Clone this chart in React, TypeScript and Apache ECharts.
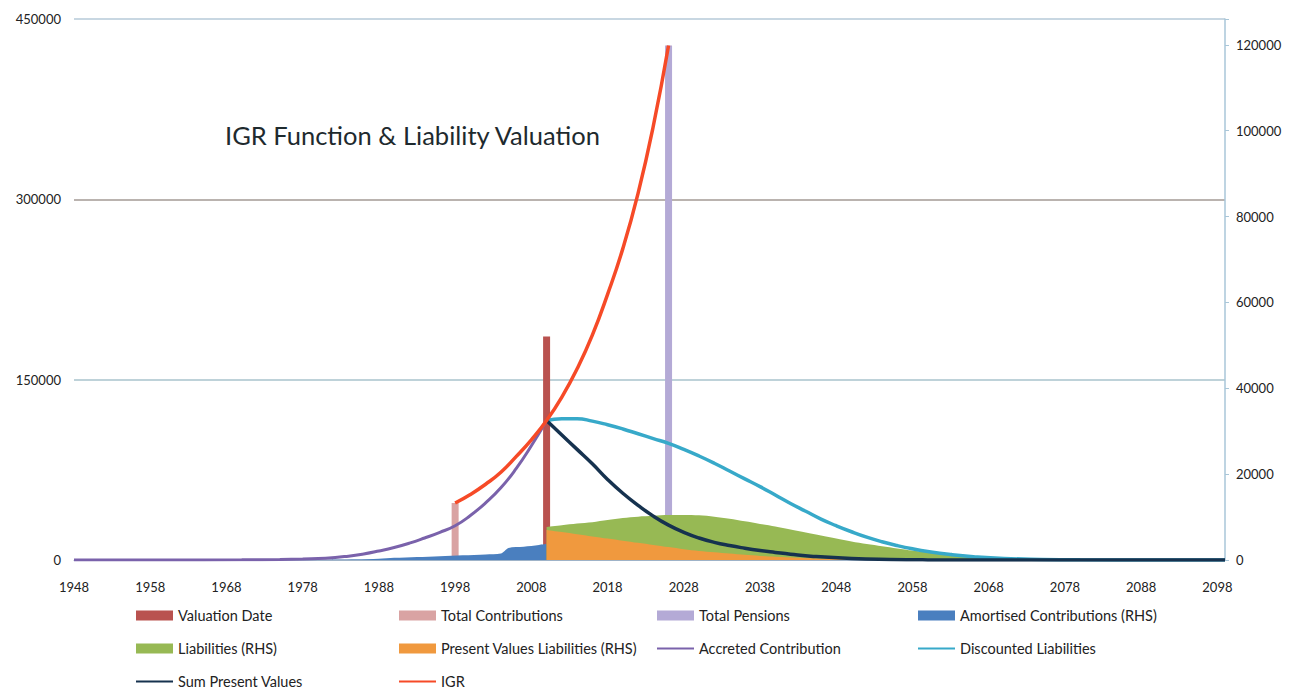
import React, { useEffect, useRef } from "react";
import * as echarts from "echarts";

const BASE_YEAR = 1948;
const yearTicks = [1948, 1958, 1968, 1978, 1988, 1998, 2008, 2018, 2028, 2038, 2048, 2058, 2068, 2078, 2088, 2098];
const leftTicks = [0, 150000, 300000, 450000];
const rightTicks = [0, 20000, 40000, 60000, 80000, 100000, 120000];

// Bars (LHS)
const valuationDate: [number, number][] = [[2010, 186000]];
const totalContributions: [number, number][] = [[1998, 47400]];
const totalPensions: [number, number][] = [[2026, 428000]];

// Areas (RHS)
const amortisedContributions: [number, number][] = [
  [1948, 0], [1980, 0], [1985, 100], [1988, 300], [1990, 500], [1993, 700], [1996, 900],
  [1999, 1100], [2002, 1300], [2004, 1500], [2005, 2800], [2007, 3100], [2009, 3500], [2010, 3700],
];
const liabilities: [number, number][] = [
  [2010, 7700], [2012, 8100], [2014, 8500], [2016, 8800], [2018, 9300], [2020, 9800], [2022, 10100],
  [2024, 10300], [2026, 10500], [2028, 10500], [2030, 10400], [2032, 10100], [2034, 9600], [2036, 9000],
  [2038, 8400], [2040, 7800], [2042, 7100], [2044, 6400], [2046, 5700], [2048, 5000], [2050, 4300],
  [2052, 3700], [2054, 3200], [2056, 2700], [2058, 2200], [2060, 1800], [2062, 1400], [2064, 1000],
  [2066, 600], [2068, 250], [2070, 0],
];
const presentValuesLiabilities: [number, number][] = [
  [2010, 7000], [2012, 6500], [2014, 6000], [2016, 5500], [2018, 5000], [2020, 4500], [2022, 4000],
  [2024, 3500], [2026, 3000], [2028, 2500], [2030, 2100], [2032, 1800], [2034, 1500], [2036, 1200],
  [2038, 950], [2040, 750], [2043, 500], [2046, 300], [2050, 150], [2055, 50], [2060, 0],
];

// Lines (LHS)
const accretedContribution: [number, number][] = [
  [1948, 0], [1960, 0], [1970, 150], [1975, 500], [1978, 900], [1981, 1500], [1984, 3200],
  [1986, 5000], [1988, 7500], [1990, 10400], [1992, 14000], [1994, 18300], [1996, 23000],
  [1998, 28500], [2000, 37000], [2002, 47500], [2004, 60000], [2006, 76000], [2008, 95000], [2010, 116000],
];
const discountedLiabilities: [number, number][] = [
  [2010, 116000], [2012, 117500], [2014, 117500], [2016, 115500], [2018, 112500], [2020, 109000],
  [2022, 105000], [2024, 101000], [2026, 97000], [2028, 92000], [2030, 86500], [2032, 80500],
  [2034, 74000], [2036, 67500], [2038, 61000], [2040, 54000], [2042, 47000], [2044, 40500],
  [2046, 34000], [2048, 28500], [2050, 23500], [2052, 19000], [2054, 15200], [2056, 12000],
  [2058, 9300], [2060, 7100], [2063, 4600], [2066, 2800], [2070, 1300], [2075, 500], [2080, 150],
  [2090, 0], [2099, 0],
];
const sumPresentValues: [number, number][] = [
  [2010, 116000], [2012, 104000], [2014, 92000], [2016, 80000], [2018, 67000], [2020, 55500],
  [2022, 45500], [2024, 36500], [2026, 29000], [2028, 23000], [2030, 18300], [2032, 14700],
  [2034, 12000], [2036, 9800], [2038, 7900], [2040, 6300], [2042, 4800], [2045, 3000],
  [2050, 1200], [2055, 400], [2060, 100], [2070, 0], [2099, 0],
];
const igr: [number, number][] = [
  [1998, 47400], [2000, 54500], [2002, 63000], [2004, 73000], [2006, 86000], [2008, 100000],
  [2010, 116000], [2012, 135500], [2014, 159000], [2016, 187000], [2018, 221000], [2020, 259000],
  [2022, 305000], [2024, 361000], [2026, 428000],
];

const FONT = "Lato";
const toXY = (d: [number, number][]) => d.map(([y, v]) => [y - BASE_YEAR, v]);

export default function App() {
  const ref = useRef<HTMLDivElement>(null);
  useEffect(() => {
    if (!ref.current) return;
    const chart = echarts.init(ref.current, undefined, { renderer: "svg" });

    const barSeries = (name: string, data: [number, number][], color: string) => ({
      name, type: "bar", data: toXY(data), yAxisIndex: 0, barWidth: 7, barGap: "-100%",
      itemStyle: { color }, z: 2,
    });
    const areaSeries = (name: string, data: [number, number][], color: string, z: number) => ({
      name, type: "line", data: toXY(data), yAxisIndex: 1, symbol: "none", smooth: 0.3,
      lineStyle: { width: 0, color }, itemStyle: { color }, areaStyle: { color, opacity: 1 }, z,
    });
    const lineSeries = (name: string, data: [number, number][], color: string, width: number, z: number) => ({
      name, type: "line", data: toXY(data), yAxisIndex: 0, symbol: "none", smooth: 0.5,
      lineStyle: { width, color }, itemStyle: { color }, z,
    });

    const legendBase = {
      orient: "vertical", top: 608, height: 100, itemWidth: 37, itemHeight: 10, itemGap: 18, padding: 0,
      textStyle: { fontFamily: FONT, fontSize: 14.5, color: "#222", lineHeight: 12 },
      selectedMode: false,
    };
    const rectIcon = (name: string) => ({ name, icon: "rect" });
    const lineIcon = (name: string) => ({
      name, itemStyle: { opacity: 0, color: "rgba(0,0,0,0)", borderWidth: 0 },
    });

    chart.setOption({
      animation: false,
      backgroundColor: "#ffffff",
      textStyle: { fontFamily: FONT },
      grid: { left: 74, right: 78, top: 19, bottom: 131, containLabel: false },
      graphic: [
        {
          type: "text", left: 225, top: 122,
          style: { text: "IGR Function & Liability Valuation", fontFamily: FONT, fontSize: 25.5, fill: "#1e2a2e" },
        },
      ],
      legend: [
        { ...legendBase, left: 135, data: [rectIcon("Valuation Date"), rectIcon("Liabilities (RHS)"), lineIcon("Sum Present Values")] },
        { ...legendBase, left: 398, data: [rectIcon("Total Contributions"), rectIcon("Present Values Liabilities (RHS)"), lineIcon("IGR")] },
        { ...legendBase, left: 656, data: [rectIcon("Total Pensions"), lineIcon("Accreted Contribution")] },
        { ...legendBase, left: 917, data: [rectIcon("Amortised Contributions (RHS)"), lineIcon("Discounted Liabilities")] },
      ],
      xAxis: {
        type: "value", min: 0, max: 151, interval: 10,
        axisLine: { show: true, onZero: false, lineStyle: { color: "#9fb3c8", width: 1 } },
        axisTick: { show: false },
        splitLine: { show: false },
        axisLabel: {
          margin: 20, fontSize: 13, color: "#222", fontFamily: FONT,
          formatter: (v: number) => (yearTicks.includes(v + BASE_YEAR) ? String(v + BASE_YEAR) : ""),
        },
      },
      yAxis: [
        {
          type: "value", min: 0, max: 450000, interval: 150000, position: "left",
          axisLine: { show: false }, axisTick: { show: false },
          splitLine: { show: true, lineStyle: { color: ["#9fb3c8", "#a9c3cc", "#a39a95", "#b6cad8"], width: 1.5 } },
          axisLabel: {
            margin: 13, fontSize: 13, color: "#222", fontFamily: FONT,
            formatter: (v: number) => (leftTicks.includes(v) ? String(v) : ""),
          },
        },
        {
          type: "value", min: 0, max: 126000, interval: 20000, position: "right",
          axisLine: { show: true, lineStyle: { color: "#a9c6d8", width: 1.5 } },
          axisTick: { show: true, length: 4, lineStyle: { color: "#a9c6d8" } },
          splitLine: { show: false },
          axisLabel: {
            margin: 11, fontSize: 13, color: "#222", fontFamily: FONT,
            formatter: (v: number) => (rightTicks.includes(v) ? String(v) : ""),
          },
        },
      ],
      series: [
        barSeries("Valuation Date", valuationDate, "#b9524f"),
        barSeries("Total Contributions", totalContributions, "#d9a3a3"),
        barSeries("Total Pensions", totalPensions, "#b4aad6"),
        areaSeries("Amortised Contributions (RHS)", amortisedContributions, "#4a7fbf", 3),
        areaSeries("Liabilities (RHS)", liabilities, "#97b954", 3),
        areaSeries("Present Values Liabilities (RHS)", presentValuesLiabilities, "#f0993e", 4),
        lineSeries("Accreted Contribution", accretedContribution, "#7a62ab", 3, 5),
        lineSeries("Discounted Liabilities", discountedLiabilities, "#37a9c9", 3.5, 5),
        lineSeries("Sum Present Values", sumPresentValues, "#16324f", 3.5, 6),
        lineSeries("IGR", igr, "#f64a27", 3.5, 7),
      ],
    });
    return () => chart.dispose();
  }, []);
  return <div ref={ref} style={{ position: "fixed", left: 0, top: 0, width: 1303, height: 691, background: "#fff" }} />;
}
